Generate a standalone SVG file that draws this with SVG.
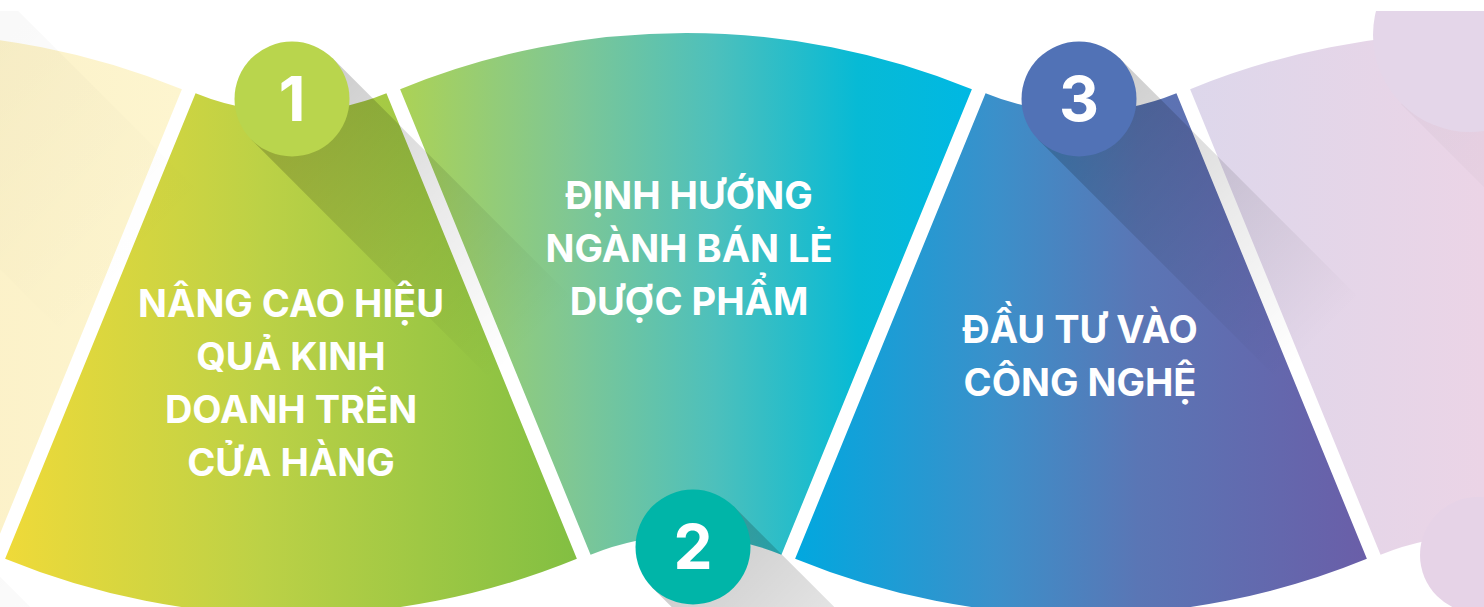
<svg xmlns="http://www.w3.org/2000/svg" xmlns:xlink="http://www.w3.org/1999/xlink" width="1484" height="607" viewBox="0 0 1484 607">
  <style>
    .lbl { font-family: Inter, "Noto Sans", "Liberation Sans", sans-serif; font-weight: 700; font-size: 38px; fill: #ffffff; text-anchor: middle; }
    .num { font-family: Inter, "Noto Sans", "Liberation Sans", sans-serif; font-weight: 700; font-size: 62px; fill: #ffffff; text-anchor: middle; }
  </style>
  <defs>
    <!-- long flat shadow: fades out along the band -->
    <linearGradient id="fade" x1="0" y1="0" x2="1" y2="0">
      <stop offset="0" stop-color="#000" stop-opacity="0.2"/>
      <stop offset="0.55" stop-color="#000" stop-opacity="0.08"/>
      <stop offset="1" stop-color="#000" stop-opacity="0"/>
    </linearGradient>
    <linearGradient id="fadeSoft" x1="0" y1="0" x2="1" y2="0">
      <stop offset="0" stop-color="#000" stop-opacity="0.03"/>
      <stop offset="1" stop-color="#000" stop-opacity="0"/>
    </linearGradient>
    <rect id="band" x="0" y="-57.5" width="340" height="115" fill="url(#fade)"/>
    <rect id="bandSoft" x="0" y="-57.5" width="340" height="115" fill="url(#fadeSoft)"/>

    <linearGradient id="g0" gradientUnits="userSpaceOnUse" x1="-100" y1="0" x2="182" y2="0">
      <stop offset="0" stop-color="#fbf0c6"/>
      <stop offset="1" stop-color="#fdf5cf"/>
    </linearGradient>
    <linearGradient id="g1" gradientUnits="userSpaceOnUse" x1="5" y1="0" x2="577" y2="0">
      <stop offset="0" stop-color="#efda39"/>
      <stop offset="0.45" stop-color="#bcd146"/>
      <stop offset="1" stop-color="#82bf42"/>
    </linearGradient>
    <linearGradient id="g2" gradientUnits="userSpaceOnUse" x1="400" y1="0" x2="972" y2="0">
      <stop offset="0" stop-color="#acd256"/>
      <stop offset="0.3" stop-color="#7fc794"/>
      <stop offset="0.55" stop-color="#4dc0bc"/>
      <stop offset="0.8" stop-color="#07bad5"/>
      <stop offset="1" stop-color="#00b8e3"/>
    </linearGradient>
    <linearGradient id="g3" gradientUnits="userSpaceOnUse" x1="795" y1="0" x2="1367" y2="0">
      <stop offset="0" stop-color="#01a8df"/>
      <stop offset="0.35" stop-color="#3b90ca"/>
      <stop offset="0.6" stop-color="#5a76b5"/>
      <stop offset="1" stop-color="#6a5ea8"/>
    </linearGradient>
    <linearGradient id="g4" gradientUnits="userSpaceOnUse" x1="1190" y1="0" x2="1484" y2="0">
      <stop offset="0" stop-color="#ddd7eb"/>
      <stop offset="1" stop-color="#ebd4e6"/>
    </linearGradient>
    <clipPath id="frame">
      <rect x="0" y="11" width="1484" height="596"/>
    </clipPath>
  </defs>

  <rect width="1484" height="607" fill="#ffffff"/>

  <g clip-path="url(#frame)">
    <!-- ring sectors: alternating centres above (y=-140) and below (y=788); r=252, R=755 -->
    <g id="seg0">
      <path d="M -389.88 89.22 A 755 755 0 0 1 181.88 89.22 L -8.58 554.76 A 252 252 0 0 0 -199.42 554.76 Z" fill="url(#g0)"/>
    </g>
    <g id="seg1">
      <path d="M 195.58 93.24 A 252 252 0 0 0 386.42 93.24 L 576.88 558.78 A 755 755 0 0 1 5.12 558.78 Z" fill="url(#g1)"/>
    </g>
    <g id="seg2">
      <path d="M 400.12 89.22 A 755 755 0 0 1 971.88 89.22 L 781.42 554.76 A 252 252 0 0 0 590.58 554.76 Z" fill="url(#g2)"/>
    </g>
    <g id="seg3">
      <path d="M 985.58 93.24 A 252 252 0 0 0 1176.42 93.24 L 1366.88 558.78 A 755 755 0 0 1 795.12 558.78 Z" fill="url(#g3)"/>
    </g>
    <g id="seg4">
      <path d="M 1190.12 89.22 A 755 755 0 0 1 1761.88 89.22 L 1571.42 554.76 A 252 252 0 0 0 1380.58 554.76 Z" fill="url(#g4)"/>
    </g>

    <!-- long shadows cast by the badges -->
    <g id="shadows">
      <use xlink:href="#bandSoft" transform="translate(-96 35) rotate(45) scale(1 1.7)"/>
      <use xlink:href="#bandSoft" transform="translate(-103 555) rotate(45)"/>
      <use xlink:href="#bandSoft" transform="translate(1470 35) rotate(45) scale(1 1.7)"/>
      <use xlink:href="#band" transform="translate(292 99) rotate(45)"/>
      <use xlink:href="#band" transform="translate(693 547) rotate(45)"/>
      <use xlink:href="#band" transform="translate(1079 99) rotate(45)"/>
    </g>

    <!-- faded decorative badges at the edges -->
    <g id="badge-faded-top">
      <circle cx="1470" cy="35" r="97" fill="#e4d6e9"/>
    </g>
    <g id="badge-faded-bottom">
      <circle cx="1478" cy="555" r="58" fill="#e6d3e7"/>
    </g>
  </g>

  <!-- numbered badges -->
  <g id="badge1">
    <circle cx="292" cy="99" r="57.5" fill="#b9d54d"/>
    <text class="num" x="292" y="121">1</text>
  </g>
  <g id="badge2">
    <circle cx="693" cy="547" r="57.5" fill="#00b5a8"/>
    <text class="num" x="693" y="569">2</text>
  </g>
  <g id="badge3">
    <circle cx="1079" cy="99" r="57.5" fill="#5172b6"/>
    <text class="num" x="1079" y="121">3</text>
  </g>

  <!-- labels -->
  <g id="label1">
    <text class="lbl" x="291" y="317">NÂNG CAO HIỆU</text>
    <text class="lbl" x="291" y="370">QUẢ KINH</text>
    <text class="lbl" x="291" y="423">DOANH TRÊN</text>
    <text class="lbl" x="291" y="476">CỬA HÀNG</text>
  </g>
  <g id="label2">
    <text class="lbl" x="689" y="209">ĐỊNH HƯỚNG</text>
    <text class="lbl" x="689" y="262">NGÀNH BÁN LẺ</text>
    <text class="lbl" x="689" y="315">DƯỢC PHẨM</text>
  </g>
  <g id="label3">
    <text class="lbl" x="1080" y="343">ĐẦU TƯ VÀO</text>
    <text class="lbl" x="1080" y="396">CÔNG NGHỆ</text>
  </g>
</svg>
